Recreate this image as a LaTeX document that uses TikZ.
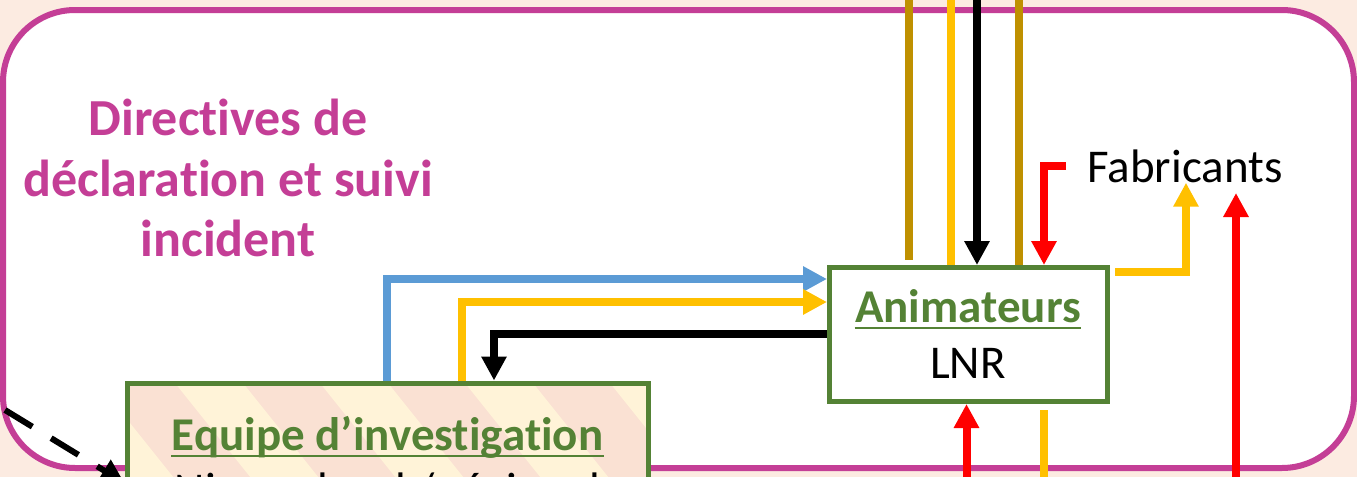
\documentclass[tikz,border=0pt]{standalone}
\usepackage{fontspec}
\setmainfont{Carlito}[Ligatures=NoCommon]
\usetikzlibrary{arrows.meta}
\definecolor{bgpeach}{HTML}{FCEBE1}
\definecolor{stripeP}{HTML}{FAE1D3}
\definecolor{stripeY}{HTML}{FFF3D8}
\definecolor{mag}{HTML}{C43E96}
\definecolor{grn}{HTML}{548235}
\definecolor{blu}{HTML}{5B9BD5}
\definecolor{ylw}{HTML}{FFC000}
\definecolor{gld}{HTML}{BF9000}
\definecolor{rd}{HTML}{FF0000}

\begin{document}
\begin{tikzpicture}[x=0.5pt, y=-0.5pt,
    flow/.style={line width=4pt},
    tip/.style={-{Triangle[length=12pt, width=12pt]}},
    box/.style={draw=grn, line width=2.5pt, inner sep=0pt},
    lbl/.style={font=\fontsize{23.5}{28}\selectfont, inner sep=0pt, anchor=base},
    head/.style={lbl, text=grn, font=\fontsize{23.5}{28}\selectfont\bfseries},
    uline/.style={grn, line width=1pt},
    titletxt/.style={font=\fontsize{26}{31}\selectfont\bfseries, text=mag, inner sep=0pt, anchor=base}]
            %\draw[lightgray] (0, 0) grid (1357, 477);
            \useasboundingbox (0, 0) rectangle (1357, 477);
            \fill[bgpeach] (0, 0) rectangle (1357, 477);
            \draw[mag, line width=3pt, fill=white, rounded corners=36pt] (3, 10) rectangle (1354, 468);
            \foreach \txt/\yy [count=\i] in {Directives de/135, d\'eclaration et suivi/196, incident/256}
                \node[titletxt] (dir\i) at (228, \yy) {\txt};

            % boxes
            \node[box, fill=white, minimum width=139pt, minimum height=67pt] (anim) at (968.5, 334.5) {};
            \node[head] (animT) at (968, 322) {Animateurs};
            \draw[uline] ([yshift=-3pt]animT.base west) -- ([yshift=-3pt]animT.base east);
            \node[lbl] (lnr) at (968, 378) {LNR};
            \node[box, fill=stripeP, minimum width=260.5pt, minimum height=95pt,
                path picture={\foreach \k in {-2,...,4}
                    \fill[stripeY] ([xshift=20pt+72.5pt*\k, yshift=5pt]path picture bounding box.north west)
                        -- ++(68, 0) -- ++(168, 210) -- ++(-68, 0) -- cycle;}] (equipe) at (387.5, 478) {};
            \node[head] (eqT) at (387.5, 450) {Equipe d’investigation};
            \draw[uline] ([yshift=-3pt]eqT.base west) -- ([yshift=-3pt]eqT.base east);
            \node[lbl] (eqS) at (387.5, 505) {Niveau local / r\'egional};
            \node[lbl, anchor=base west] (fab) at (1087, 182) {Fabricants};

            % links between the boxes
            \draw[flow, blu, tip] (equipe.north -| 387, 0) |- (anim.west |- 0, 279);
            \draw[flow, ylw, tip] (equipe.north -| 462, 0) |- (anim.west |- 0, 302);
            \draw[flow, black, tip] (anim.west |- 0, 334) -| (equipe.north -| 494, 0);
            \coordinate (dS) at (5, 410);
            \draw[line width=3pt, dash pattern=on 16pt off 11pt, tip] (dS) -- (equipe.west |- 0, 483);

            % lines from above
            \coordinate (gA) at (909, -5);
            \coordinate (yA) at (951, -5);
            \coordinate (kA) at (977, -5);
            \coordinate (gB) at (1019, -5);
            \draw[flow, gld] (gA) -- ([yshift=2.5pt]gA |- anim.north);
            \draw[flow, ylw] (yA) -- (yA |- anim.north);
            \draw[flow, black, tip] (kA) -- (kA |- anim.north);
            \draw[flow, gld] (gB) -- (gB |- anim.north);
            \coordinate (rH) at (1066, 165.5);
            \draw[flow, rd, tip] (rH) -| (anim.north -| 1044, 0);
            \draw[flow, ylw, tip] ([xshift=2.5pt]anim.north east |- 0, 272) -| (fab.south -| 1186, 0);

            % lines from below
            \coordinate (rB) at (1236, 482);
            \coordinate (rC) at (966.5, 482);
            \coordinate (yC) at (1044, 482);
            \draw[flow, rd, tip] (rB) -- (rB |- 0, 193);
            \draw[flow, rd, tip] (rC) -- (anim.south -| rC);
            \draw[flow, ylw] ([yshift=-3pt]anim.south -| yC) -- (yC);
        \end{tikzpicture}
\end{document}
